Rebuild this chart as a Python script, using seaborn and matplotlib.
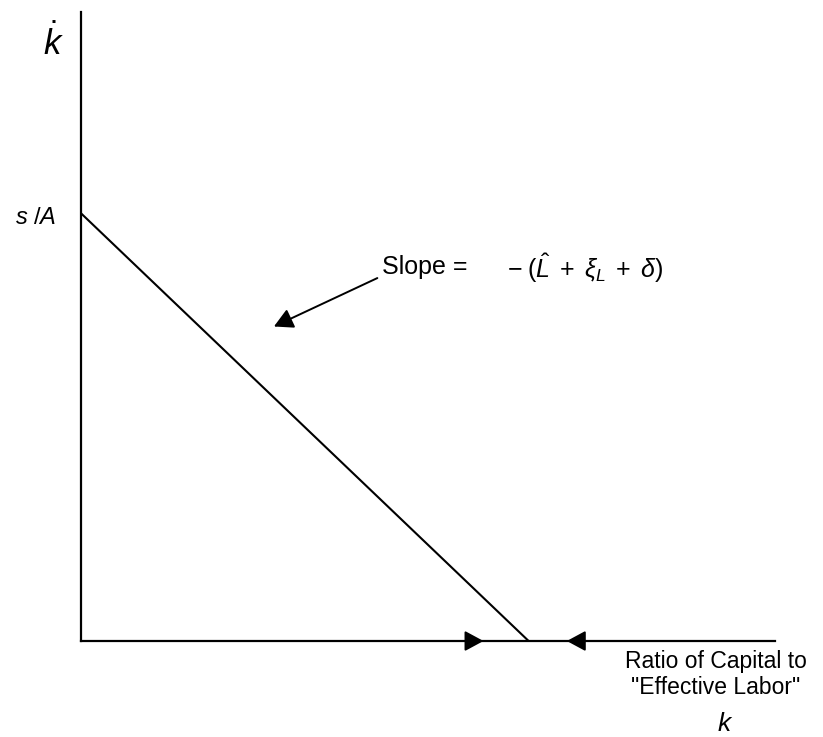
import matplotlib
matplotlib.use("Agg")
import pandas as pd
import seaborn as sns
from matplotlib import pyplot as plt

# diagram values (conceptual units)
s_over_a = 6.8          # intercept of the k-dot line
k_star = 6.45           # steady state ratio
flow_in = 5.8           # arrow from left, pointing right
flow_out = 7.0          # arrow from right, pointing left
axis_max = 10

sns.set_style("white")
plt.rcParams["font.family"] = ["Liberation Sans", "DejaVu Sans"]
plt.rcParams["mathtext.fontset"] = "custom"
plt.rcParams["mathtext.rm"] = "Liberation Sans"
plt.rcParams["mathtext.it"] = "Liberation Sans:italic"
plt.rcParams["text.color"] = "black"


def head(ax, tip, tail, scale=1.0):
    ax.annotate(
        "", xy=tip, xytext=tail,
        arrowprops=dict(arrowstyle=f"-|>,head_length={1.15*scale},head_width={0.62*scale}",
                        color="black", lw=1.4, shrinkA=0, shrinkB=0),
        annotation_clip=False,
    )


def main():
    fig = plt.figure(figsize=(8.23, 7.37), dpi=100)
    ax = fig.add_axes([81 / 823, 1 - 641 / 737, (775 - 81) / 823, (641 - 12) / 737])

    line = pd.DataFrame({"k": [0, k_star], "kdot": [s_over_a, 0]})
    sns.lineplot(data=line, x="k", y="kdot", color="black", lw=1.5, ax=ax)

    ax.set_xlim(0, axis_max)
    ax.set_ylim(0, axis_max)
    ax.set(xticks=[], yticks=[], xlabel="", ylabel="")
    sns.despine(ax=ax)
    for side in ("left", "bottom"):
        ax.spines[side].set_linewidth(1.6)
        ax.spines[side].set_color("black")

    # stability arrows on the k axis
    head(ax, (flow_in, 0), (flow_in - 0.4, 0))
    head(ax, (flow_out, 0), (flow_out + 0.4, 0))

    # slope annotation
    head(ax, (2.78, 5.0), (4.27, 5.77))
    ax.text(4.34, 5.95, "Slope =", fontsize=18, va="center", ha="left")
    ax.text(6.14, 5.93, r"$-\;(\hat{L}\;+\;\xi_L\;+\;\delta)$", fontsize=18,
            va="center", ha="left")

    ax.text(-0.35, s_over_a - 0.08, r"$s\ /A$", fontsize=17, va="center", ha="right")
    ax.text(-0.40, 9.5, r"$\dot{k}$", fontsize=25, va="center", ha="center")

    ax.text(9.15, -0.14, 'Ratio of Capital to\n"Effective Labor"', fontsize=16.5,
            va="top", ha="center", multialignment="center", linespacing=1.15)
    ax.text(9.28, -1.32, r"$k$", fontsize=19, va="center", ha="center")

    fig.savefig("out.png", dpi=100)
    plt.close(fig)


if __name__ == "__main__":
    main()
